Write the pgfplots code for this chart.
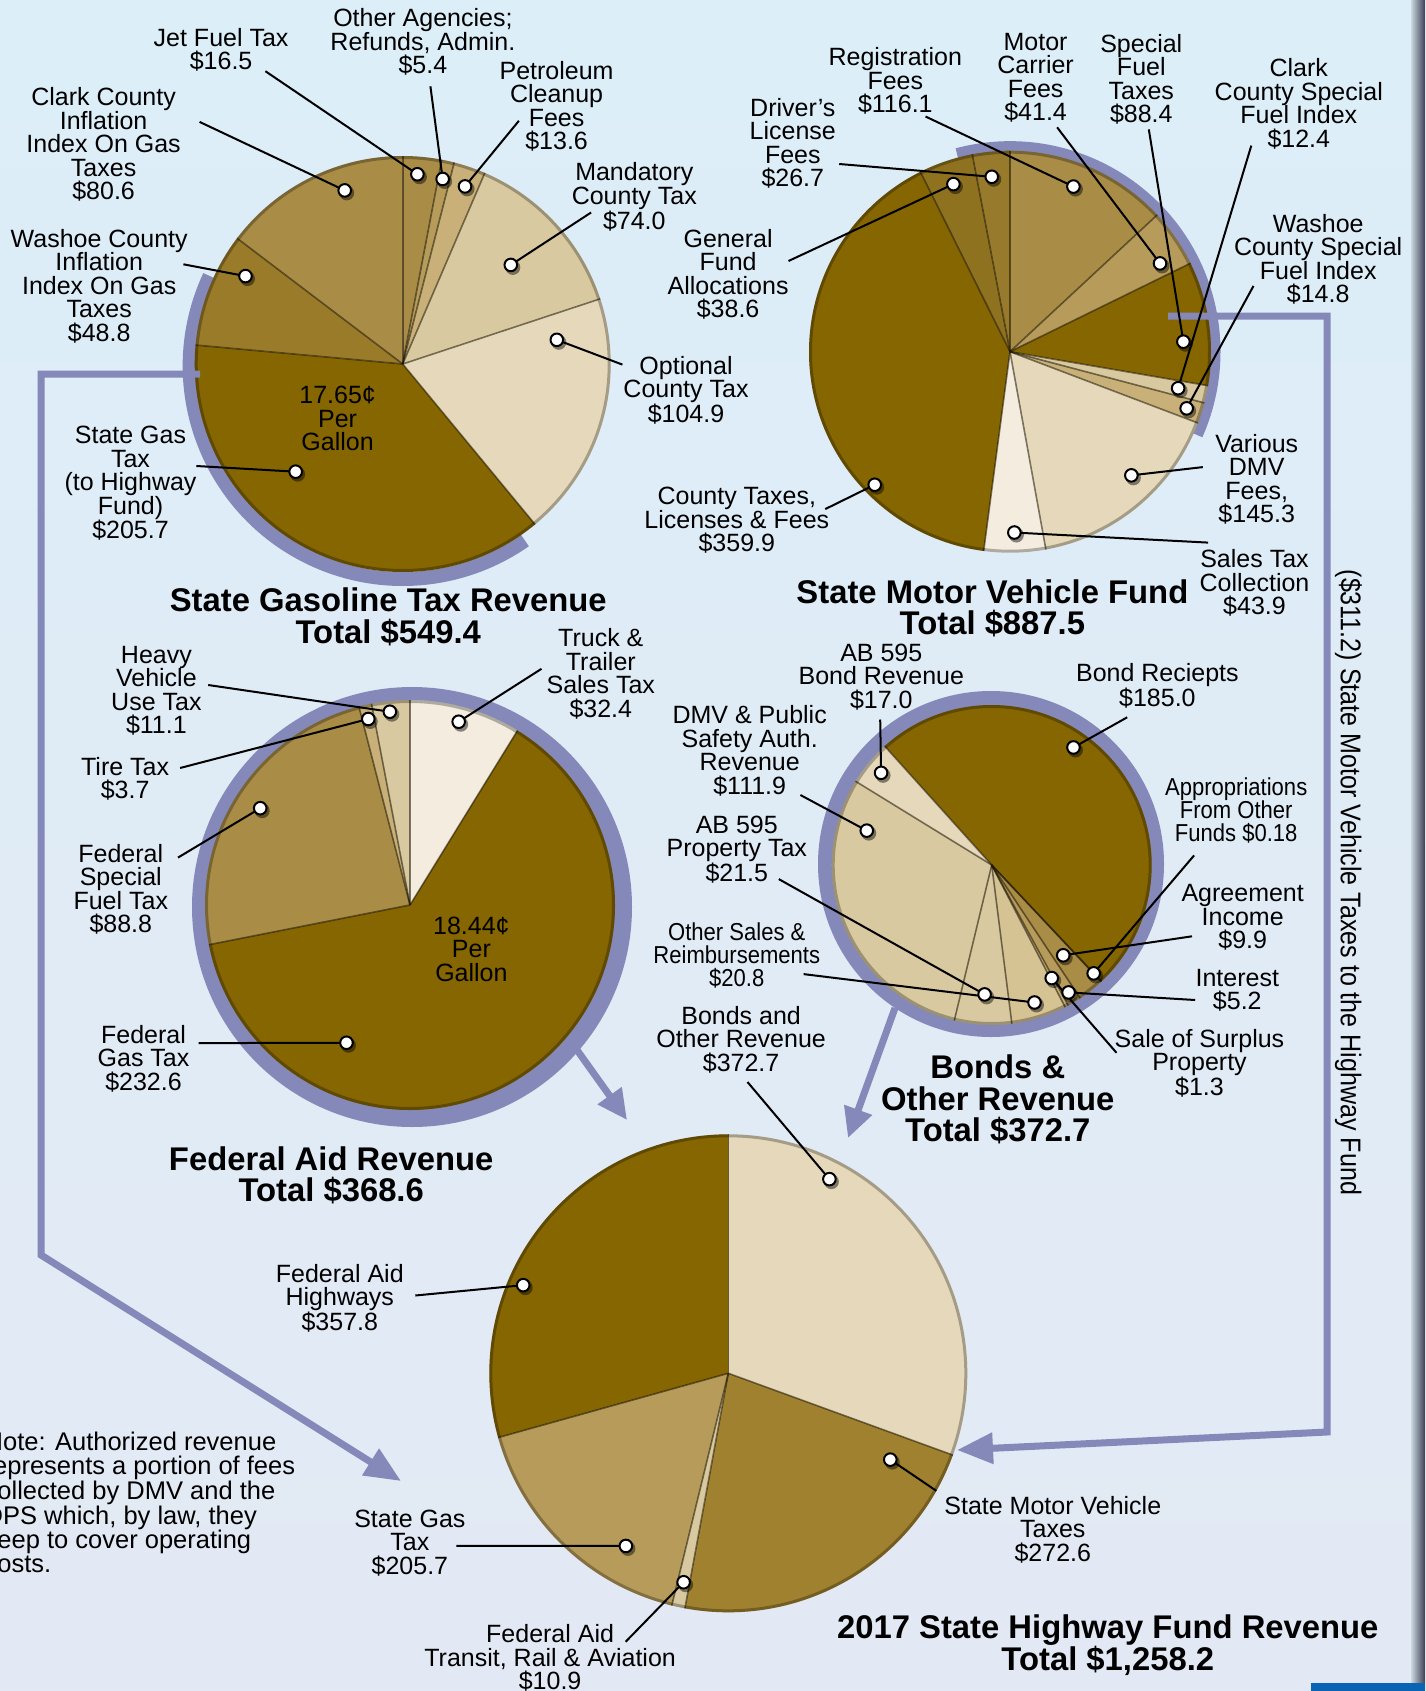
\documentclass[border=0pt]{standalone}
\usepackage{pgfplots}
\usepackage{pgfplotstable}
\pgfplotsset{compat=1.18}
\usetikzlibrary{arrows.meta}
\usepackage{fontspec}
\setmainfont{Liberation Sans}
\newfontfamily\narrowfont{Liberation Sans}[FakeStretch=0.9]
\newfontfamily\vertfont{Liberation Sans}[FakeStretch=0.88]

\definecolor{cDark}{HTML}{866600}
\definecolor{cMedDark}{HTML}{9A7B29}
\definecolor{cGen}{HTML}{8F7220}
\definecolor{cDrv}{HTML}{977A2C}
\definecolor{cMed}{HTML}{A98C46}
\definecolor{cSMV}{HTML}{A0812F}
\definecolor{cMedLight}{HTML}{B69B5A}
\definecolor{cTan}{HTML}{C8B078}
\definecolor{cLight}{HTML}{D9C9A0}
\definecolor{cLightB}{HTML}{D6C394}
\definecolor{cLighter}{HTML}{E6D9BB}
\definecolor{cLightest}{HTML}{F3ECDF}
\definecolor{cRing}{HTML}{8589B9}
\definecolor{bgTop}{HTML}{DCEEF8}
\definecolor{bgBot}{HTML}{E3E9F4}
\definecolor{cBlue}{HTML}{0A64B4}

% State Gasoline Tax Revenue
\pgfplotstableread{
value color t f name
16.5 cMed 0.41 0.915 jet
5.4 cMedLight 0.39 0.91 oth
13.6 cTan 0.56 0.905 pet
74.0 cLight 0.5 0.705 man
104.9 cLighter 0.136 0.75 opt
205.7 cDark 0.626 0.73 sgt
48.8 cMedDark 0.75 0.866 was
80.6 cMed 0.65 0.88 cla
}\pieA
% State Motor Vehicle Fund
\pgfplotstableread{
value color t f name
116.1 cMed 0.446 0.88 reg
41.4 cMedLight 0.74 0.866 mot
88.4 cDark 0.636 0.864 spf
12.4 cLight 0.5 0.856 csp
14.8 cTan 0.5 0.923 wsp
145.3 cLighter 0.42 0.862 dmv
43.9 cLightest 0.5 0.9 sal
359.9 cDark 0.26 0.944 cty
38.6 cGen 0.5 0.88 gen
26.7 cDrv 0.45 0.875 drv
}\pieB
% Federal Aid Revenue
\pgfplotstableread{
value color t f name
32.4 cLightest 0.47 0.925 trk
232.6 cDark 0.762 0.74 fgt
88.8 cMed 0.508 0.87 fsp
3.7 cTan 0.5 0.93 tir
11.1 cLight 0.45 0.948 hvy
}\pieC
% Bonds & Other Revenue
\pgfplotstableread{
value color t f name
185.0 cDark 0.43 0.895 brc
0.18 cMedDark 0.5 0.93 app
9.9 cMed 0.5 0.72 agr
5.2 cMedLight 0.5 0.93 int
1.3 cTan 0.5 0.8 sur
20.8 cLightB 0.5 0.9 osr
21.5 cLight 0.5 0.81 apt
111.9 cLight 0.85 0.81 dmv
17.0 cLighter 0.5 0.9 abb
}\pieD
% 2017 State Highway Fund Revenue
\pgfplotstableread{
value color t f name
372.7 cLighter 0.25 0.916 bor
272.6 cSMV 0.1 0.768 smv
10.9 cLight 0.5 0.894 trn
205.7 cMedLight 0.28 0.84 sgt
357.8 cDark 0.368 0.934 hwy
}\pieE

\newcommand{\pieget}[4]{\pgfplotstablegetelem{#1}{#2}\of{#3}\let#4\pgfplotsretval}
% #1 name, #2 cx, #3 cy, #4 radius, #5 start angle, #6 table
\newcommand{\piechart}[6]{%
  \pgfplotstablegetrowsof{#6}\pgfmathtruncatemacro\pieN{\pgfplotsretval-1}%
  \gdef\pietotal{0}%
  \foreach \i in {0,...,\pieN}{\pieget{\i}{value}{#6}\pieV\pgfmathparse{\pietotal+\pieV}\xdef\pietotal{\pgfmathresult}}%
  \xdef\piecur{#5}%
  \foreach \i in {0,...,\pieN}{%
    \pieget{\i}{value}{#6}\pieV
    \pieget{\i}{color}{#6}\pieC
    \pieget{\i}{t}{#6}\pieT
    \pieget{\i}{f}{#6}\pieF
    \pieget{\i}{name}{#6}\pieNm
    \pgfmathsetmacro\pienext{\piecur-\pieV/\pietotal*360}%
    \pgfmathsetmacro\piemid{\piecur-\pieT*(\piecur-\pienext)}%
    \pgfmathsetmacro\pierad{\pieF*#4}%
    \fill[fill=\pieC] (axis cs:#2,#3) -- ++(\piecur:#4pt) arc[start angle=\piecur, end angle=\pienext, radius=#4pt] -- cycle;
    \coordinate (#1-\pieNm) at ([shift={(\piemid:\pierad pt)}]axis cs:#2,#3);
    \xdef\piecur{\pienext}%
  }%
  \xdef\piecur{#5}%
  \foreach \i in {0,...,\pieN}{%
    \pieget{\i}{value}{#6}\pieV
    \draw[sepline] (axis cs:#2,#3) -- ++(\piecur:#4pt);
    \pgfmathsetmacro\pienext{\piecur-\pieV/\pietotal*360}%
    \xdef\piecur{\pienext}%
  }%
  \draw[rimline] (axis cs:#2,#3) circle[radius=#4pt-1.5pt];
}
\newcommand{\lead}[3]{\draw[leader] (axis cs:#1,#2) -- (#3);}
\newcommand{\pdot}[1]{\fill[black,opacity=.45] ([shift={(2pt,-2.5pt)}]#1) circle[radius=7.5pt]; \filldraw[fill=white,draw=black,line width=2pt] (#1) circle[radius=6.3pt];}

\tikzset{
  lab/.style={font=\fontsize{25}{23.5}\selectfont, align=center, inner sep=0pt},
  labn/.style={font=\narrowfont\fontsize{24.5}{23}\selectfont, align=center, inner sep=0pt},
  ttl/.style={font=\fontsize{32.8}{31.5}\selectfont\bfseries, align=center, inner sep=0pt},
  conn/.style={draw=cRing, line width=7pt, line join=miter},
  leader/.style={draw=black, line width=2pt},
  sepline/.style={draw=black!80!cDark, opacity=.55, line width=1.6pt},
  rimline/.style={draw=black, opacity=.28, line width=3pt},
}

\begin{document}
\begin{tikzpicture}
\begin{axis}[x=1pt, y=1pt, xmin=0, xmax=1425, ymin=0, ymax=1691, y dir=reverse, hide axis, clip=false]
\pgfplotsextra{%
  \shade[top color=bgTop, bottom color=bgBot] (axis cs:0,0) rectangle (axis cs:1425,1691);
  \begin{scope}[overlay]
  \shade[left color=bgTop!80!gray, right color=black!55!cRing] (axis cs:1411,0) rectangle (axis cs:1425,1691);
  \fill[cBlue] (axis cs:1311,1683) rectangle (axis cs:1425,1691);
  % rings
  \draw[cRing, line width=14pt] ([shift={(155:213pt)}]axis cs:402.7,366) arc[start angle=155, end angle=305, radius=213pt];
  \draw[cRing, line width=10pt] ([shift={(105:205.5pt)}]axis cs:1010,351.7) arc[start angle=105, end angle=-24, radius=205.5pt];
  \fill[cRing] (axis cs:412,907) circle[radius=220pt];
  \fill[cRing] (axis cs:991,864) circle[radius=173pt];
  % pies
  \piechart{A}{402.7}{364}{208}{90}{\pieA}
  \piechart{B}{1010}{351.7}{201}{90}{\pieB}
  \piechart{C}{410}{905}{205}{90}{\pieC}
  \piechart{D}{991.7}{865}{160}{132}{\pieD}
  \piechart{E}{728.3}{1373.3}{239}{90}{\pieE}
  % connectors
  \draw[conn, -{Triangle[length=36pt,width=30pt]}] (axis cs:200,374) -- (axis cs:41,374) -- (axis cs:41,1255) -- (axis cs:401,1481);
  \draw[conn, -{Triangle[length=36pt,width=30pt]}] (axis cs:1168,316) -- (axis cs:1327,316) -- (axis cs:1327,1432) -- (axis cs:957,1450);
  \draw[conn, -{Triangle[length=30pt,width=28pt]}] (axis cs:577,1050) -- (axis cs:627,1120);
  \draw[conn, -{Triangle[length=30pt,width=28pt]}] (axis cs:895,1008) -- (axis cs:848,1138);
  % leader lines
  \lead{265.4}{71.2}{A-jet}\lead{430.4}{86.3}{A-oth}\lead{518.9}{120.8}{A-pet}\lead{591.1}{212.5}{A-man}
  \lead{622.4}{364.6}{A-opt}\lead{196.3}{466}{A-sgt}\lead{183.4}{264.3}{A-was}\lead{199.6}{121.9}{A-cla}
  \lead{925.5}{116.5}{B-reg}\lead{1057.1}{127.3}{B-mot}\lead{1148.8}{129.4}{B-spf}\lead{1251.3}{145.6}{B-csp}
  \lead{1253.5}{285.9}{B-wsp}\lead{1202.8}{467.1}{B-dmv}\lead{1208.1}{542.6}{B-sal}\lead{825.2}{509.1}{B-cty}
  \lead{788.5}{261}{B-gen}\lead{839.2}{164}{B-drv}
  \lead{541.5}{668.8}{C-trk}\lead{208.2}{685}{C-hvy}\lead{180.1}{768}{C-tir}\lead{178}{857.6}{C-fsp}\lead{198.5}{1043.1}{C-fgt}
  \lead{880.2}{719.5}{D-abb}\lead{1127.2}{717.3}{D-brc}\lead{800.4}{795}{D-dmv}\lead{778.8}{879.1}{D-apt}
  \lead{803.6}{974.1}{D-osr}\lead{1194.1}{855.4}{D-app}\lead{1192}{936.3}{D-agr}\lead{1195.2}{1000}{D-int}\lead{1116.5}{1052.8}{D-sur}
  \lead{747.5}{1082}{E-bor}\lead{415.3}{1295.5}{E-hwy}\lead{456.3}{1545.8}{E-sgt}\lead{625.6}{1641.8}{E-trn}\lead{936.3}{1490.8}{E-smv}
  % dots
  \foreach \p in {A-jet,A-oth,A-pet,A-man,A-opt,A-sgt,A-was,A-cla,B-reg,B-mot,B-spf,B-csp,B-wsp,B-dmv,B-sal,B-cty,B-gen,B-drv,C-trk,C-fgt,C-fsp,C-tir,C-hvy,D-brc,D-app,D-agr,D-int,D-sur,D-osr,D-apt,D-dmv,D-abb,E-bor,E-smv,E-trn,E-sgt,E-hwy}{\pdot{\p}}
  % labels: gasoline
  \node[lab] at (axis cs:221.1,49.6) {Jet Fuel Tax\\\$16.5};
  \node[lab] at (axis cs:422.9,42.1) {Other Agencies;\\Refunds, Admin.\\\$5.4};
  \node[lab] at (axis cs:556.6,106.3) {Petroleum\\Cleanup\\Fees\\\$13.6};
  \node[lab] at (axis cs:634.3,196.9) {Mandatory\\County Tax\\\$74.0};
  \node[lab] at (axis cs:686,390) {Optional\\County Tax\\\$104.9};
  \node[lab] at (axis cs:130.5,483.3) {State Gas\\Tax\\(to Highway\\Fund)\\\$205.7};
  \node[lab] at (axis cs:99.2,285.9) {Washoe County\\Inflation\\Index On Gas\\Taxes\\\$48.8};
  \node[lab] at (axis cs:103.6,144.5) {Clark County\\Inflation\\Index On Gas\\Taxes\\\$80.6};
  \node[lab] at (axis cs:337.6,418.5) {17.65¢\\Per\\Gallon};
  % labels: motor vehicle
  \node[lab] at (axis cs:895.3,80.9) {Registration\\Fees\\\$116.1};
  \node[lab] at (axis cs:1035.6,77.7) {Motor\\Carrier\\Fees\\\$41.4};
  \node[lab] at (axis cs:1141.3,79.3) {Special\\Fuel\\Taxes\\\$88.4};
  \node[lab] at (axis cs:1298.8,103.6) {Clark\\County Special\\Fuel Index\\\$12.4};
  \node[lab] at (axis cs:1318.2,259.4) {Washoe\\County Special\\Fuel Index\\\$14.8};
  \node[lab] at (axis cs:1256.7,479.5) {Various\\DMV\\Fees,\\\$145.3};
  \node[lab] at (axis cs:1254.5,583) {Sales Tax\\Collection\\\$43.9};
  \node[lab] at (axis cs:736.8,520.5) {County Taxes,\\Licenses \& Fees\\\$359.9};
  \node[lab] at (axis cs:728.1,274.5) {General\\Fund\\Allocations\\\$38.6};
  \node[lab] at (axis cs:792.8,143.5) {Driver’s\\License\\Fees\\\$26.7};
  % labels: federal aid
  \node[lab] at (axis cs:600.8,673.6) {Truck \&\\Trailer\\Sales Tax\\\$32.4};
  \node[lab] at (axis cs:156.4,690.9) {Heavy\\Vehicle\\Use Tax\\\$11.1};
  \node[lab] at (axis cs:125.1,778.8) {Tire Tax\\\$3.7};
  \node[lab] at (axis cs:120.8,889.4) {Federal\\Special\\Fuel Tax\\\$88.8};
  \node[lab] at (axis cs:143.5,1058.7) {Federal\\Gas Tax\\\$232.6};
  \node[lab] at (axis cs:471.4,949.3) {18.44¢\\Per\\Gallon};
  % labels: bonds
  \node[lab] at (axis cs:881.3,676.9) {AB 595\\Bond Revenue\\\$17.0};
  \node[lab] at (axis cs:1157.4,685.5) {Bond Reciepts\\\$185.0};
  \node[lab] at (axis cs:749.7,750.8) {DMV \& Public\\Safety Auth.\\Revenue\\\$111.9};
  \node[lab] at (axis cs:736.8,849.5) {AB 595\\Property Tax\\\$21.5};
  \node[labn] at (axis cs:736.8,955.2) {Other Sales \&\\Reimbursements\\\$20.8};
  \node[lab] at (axis cs:741.1,1039.3) {Bonds and\\Other Revenue\\\$372.7};
  \node[labn] at (axis cs:1236.2,810.1) {Appropriations\\From Other\\Funds \$0.18};
  \node[lab] at (axis cs:1242.7,917.4) {Agreement\\Income\\\$9.9};
  \node[lab] at (axis cs:1237.3,990.2) {Interest\\\$5.2};
  \node[lab] at (axis cs:1199.5,1063.1) {Sale of Surplus\\Property\\\$1.3};
  % labels: highway fund
  \node[lab] at (axis cs:339.8,1298.2) {Federal Aid\\Highways\\\$357.8};
  \node[lab] at (axis cs:409.9,1543.1) {State Gas\\Tax\\\$205.7};
  \node[lab] at (axis cs:550.1,1658) {Federal Aid\\Transit, Rail \& Aviation\\\$10.9};
  \node[lab] at (axis cs:1052.8,1529.6) {State Motor Vehicle\\Taxes\\\$272.6};
  % titles
  \node[ttl] at (axis cs:388.3,617) {State Gasoline Tax Revenue\\Total \$549.4};
  \node[ttl] at (axis cs:992.4,608.4) {State Motor Vehicle Fund\\Total \$887.5};
  \node[ttl] at (axis cs:331.2,1175.2) {Federal Aid Revenue\\Total \$368.6};
  \node[ttl] at (axis cs:997.8,1099.7) {Bonds \&\\Other Revenue\\Total \$372.7};
  \node[ttl] at (axis cs:1107.8,1645) {2017 State Highway Fund Revenue\\Total \$1,258.2};
  % side text and note
  \node[rotate=-90, inner sep=0pt, font=\vertfont\fontsize{28.5}{30}\selectfont] at (axis cs:1348.4,882.4) {(\$311.2) State Motor Vehicle Taxes to the Highway Fund};
  \node[anchor=west, align=left, inner sep=0pt, font=\fontsize{25.5}{23.7}\selectfont] at (axis cs:-15.5,1502.6) {Note: Authorized revenue\\represents a portion of fees\\collected by DMV and the\\DPS which, by law, they\\keep to cover operating\\costs.};
  \end{scope}
}
\end{axis}
\end{tikzpicture}
\end{document}
